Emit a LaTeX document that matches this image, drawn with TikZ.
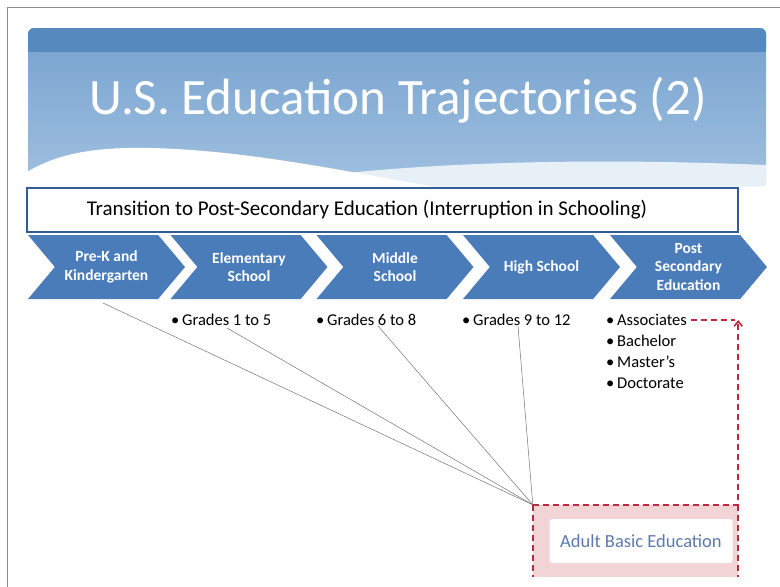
\documentclass[tikz,border=0pt]{standalone}
\usepackage{fontspec}
\setmainfont{Carlito}
\usepackage{xcolor}
\usepackage{tikz}
\usetikzlibrary{positioning,shapes.symbols,arrows.meta}

\definecolor{bandeau}{RGB}{86,137,190}
\definecolor{cielhaut}{RGB}{118,162,206}
\definecolor{cielbas}{RGB}{160,192,224}
\definecolor{chevbleu}{RGB}{74,124,186}
\definecolor{cadrebleu}{RGB}{50,92,150}
\definecolor{rougept}{RGB}{190,40,62}
\definecolor{rose}{RGB}{243,212,214}
\definecolor{texteabe}{RGB}{92,122,170}

\begin{document}
\begin{tikzpicture}[x=1pt,y=-1pt,
  etape/.style={signal, signal to=east, signal from=west, signal pointer angle=100,
    fill=chevbleu, draw=none, minimum width=157pt, minimum height=64pt, inner sep=0pt,
    text=white, font=\fontsize{15.5}{18.5}\selectfont\bfseries, align=center},
  puce/.style={font=\fontsize{16.5}{18}\selectfont, anchor=west, inner sep=0pt},
  trait/.style={draw=black!55, line width=0.5pt},
  pointille/.style={draw=rougept, line width=1.6pt, dash pattern=on 6pt off 4pt}
]
  \useasboundingbox (0,0) rectangle (780,587);
  \draw[black!45, line width=1pt] (7,587) -- (7,7) -- (780,7);

  % bandeau du titre
  \shade[top color=cielhaut, bottom color=cielbas, rounded corners=6pt]
    (28,186) -- (28,28) -- (766,28) -- (766,186) -- cycle;
  \fill[bandeau, rounded corners=6pt] (28,52) -- (28,28) -- (766,28) -- (766,52) -- cycle;
  \fill[bandeau] (28,46) rectangle (766,52);
  \fill[white!75!cielbas] (250,186) .. controls (400,160) and (600,158) .. (766,165) -- (766,186) -- cycle;
  \fill[white] (27,190) -- (27,172) .. controls (60,152) and (100,147) .. (150,148)
    .. controls (240,150) and (330,168) .. (440,188) -- (440,190) -- cycle;
  \node (titre) [text=white, font=\fontsize{51}{54}\selectfont] at (398,100) {U.S. Education Trajectories (2)};

  \node (transition) [draw=cadrebleu, line width=1.5pt, fill=white, minimum width=711pt, minimum height=44pt] at (382.5,210) {};
  \node[font=\fontsize{21}{23}\selectfont] at (367,210) {Transition to Post-Secondary Education (Interruption in Schooling)};

  % etapes
  \node[etape] (prek)  at (106.5,267) {Pre-K and\\Kindergarten};
  \node[etape] (elem)  at (249,267)   {Elementary\\School};
  \node[etape] (midd)  at (395,267)   {Middle\\School};
  \node[etape] (high)  at (541.5,267) {High School};
  \node[etape] (post)  at (688.5,267) {Post\\Secondary\\Education};

  \node[puce] (g1) at (171,320) {\textbullet\,Grades 1 to 5};
  \node[puce] (g2) at (316,320) {\textbullet\,Grades 6 to 8};
  \node[puce] (g3) at (462,320) {\textbullet\,Grades 9 to 12};
  \node[puce] (assoc) at (606,320) {\textbullet\,Associates};
  \node[puce] (bach)  at (606,341) {\textbullet\,Bachelor};
  \node[puce] (mast)  at (606,362) {\textbullet\,Master's};
  \node[puce] (doct)  at (606,383) {\textbullet\,Doctorate};

  % education des adultes
  \node (abe) [fill=rose, minimum width=205pt, minimum height=72pt, inner sep=0pt] at (635.5,541) {};
  \node (abetxt) [fill=white, rounded corners=3pt, minimum width=183pt, minimum height=44pt,
    text=texteabe, font=\fontsize{18.5}{20}\selectfont] at (641,541) {Adult Basic Education};

  \coordinate (d1) at (103,303);
  \coordinate (d2) at (227,328);
  \coordinate (d3) at (378,326);
  \coordinate (d4) at (518,326);
  \coordinate (coin) at (abe.north east |- assoc);
  \foreach \d in {d1,d2,d3,d4}
    \draw[trait] (\d) -- (abe.north west);

  \draw[pointille] (assoc.east) ++(4,0) -- ([xshift=-3pt]coin);
  \draw[pointille, -{Straight Barb[length=5pt,width=8pt]}] (abe.north west) -- (abe.north east) -- (coin);
  \draw[pointille] (abe.north west) -- (abe.south west);
  \draw[pointille] (abe.north east) -- (abe.south east);
\end{tikzpicture}
\end{document}
